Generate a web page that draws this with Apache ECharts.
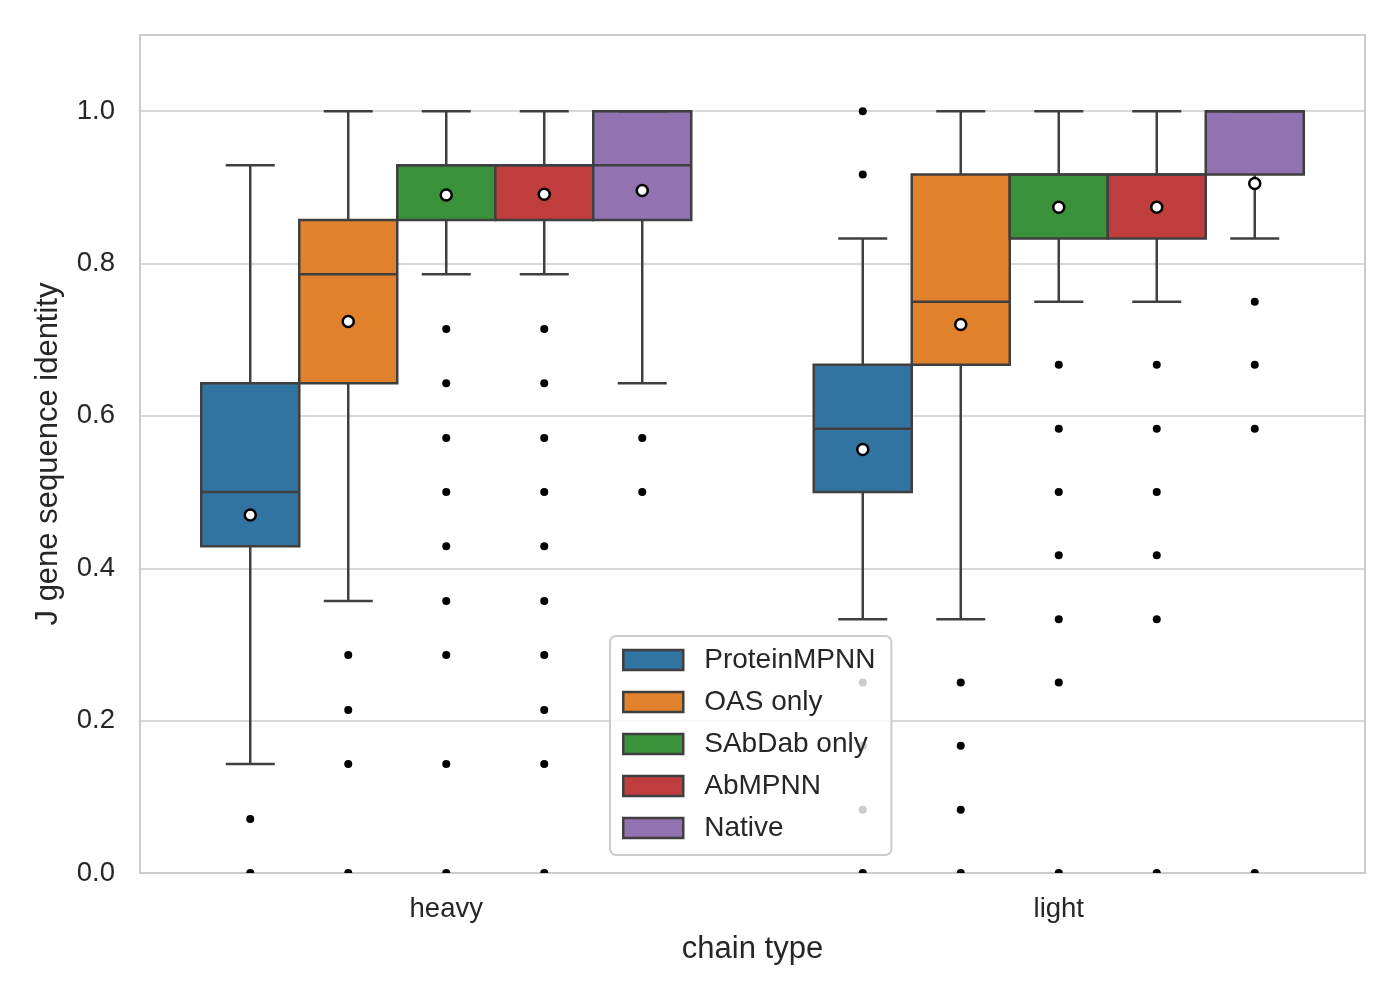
<!DOCTYPE html>
<html>
<head>
<meta charset="utf-8">
<script src="https://cdn.jsdelivr.net/npm/echarts@6/dist/echarts.min.js"></script>
<style>html,body{margin:0;padding:0;background:#fff;}#chart{width:1400px;height:1000px;}</style>
</head>
<body>
<div id="chart"></div>
<script>
// ---- data ----
const categories = ['heavy', 'light'];
const hues = ['ProteinMPNN', 'OAS only', 'SAbDab only', 'AbMPNN', 'Native'];
const palette = ['#3274a1', '#e1812c', '#3a923a', '#c03d3e', '#9372b2'];
// [lower whisker, Q1, median, Q3, upper whisker] per hue
const heavyStats = [
  [0.143, 0.429, 0.5, 0.643, 0.929],
  [0.357, 0.643, 0.786, 0.857, 1.0],
  [0.786, 0.857, 0.929, 0.929, 1.0],
  [0.786, 0.857, 0.929, 0.929, 1.0],
  [0.643, 0.857, 0.929, 1.0, 1.0]
];
const lightStats = [
  [0.333, 0.5, 0.583, 0.667, 0.833],
  [0.333, 0.667, 0.75, 0.917, 1.0],
  [0.75, 0.833, 0.917, 0.917, 1.0],
  [0.75, 0.833, 0.917, 0.917, 1.0],
  [0.833, 0.917, 1.0, 1.0, 1.0]
];
const heavyMeans = [0.470, 0.724, 0.890, 0.891, 0.896];
const lightMeans = [0.556, 0.720, 0.874, 0.874, 0.905];
const heavyFliers = [
  [0.071, 0],
  [0.286, 0.214, 0.143, 0],
  [0.714, 0.643, 0.571, 0.5, 0.429, 0.357, 0.286, 0.143, 0],
  [0.714, 0.643, 0.571, 0.5, 0.429, 0.357, 0.286, 0.214, 0.143, 0],
  [0.571, 0.5]
];
const lightFliers = [
  [1.0, 0.917, 0.25, 0.167, 0.083, 0],
  [0.25, 0.167, 0.083, 0],
  [0.667, 0.583, 0.5, 0.417, 0.333, 0.25, 0],
  [0.667, 0.583, 0.5, 0.417, 0.333, 0],
  [0.75, 0.667, 0.583, 0]
];
const yTicks = [0, 0.2, 0.4, 0.6, 0.8, 1.0];

// ---- layout helpers ----
const GROUP_W = 0.8;
const BOX_W = GROUP_W / hues.length;
const EDGE = '#3f3f3f';
const LW = 2.5;
const FONT = "'Liberation Sans', Arial, sans-serif";
const TXT = '#262626';
function hueX(cat, h) { return cat + (h - (hues.length - 1) / 2) * BOX_W; }

function renderBox(params, api) {
  const x = api.value(0);
  const lo = api.coord([x, api.value(1)]);
  const q1 = api.coord([x, api.value(2)]);
  const md = api.coord([x, api.value(3)]);
  const q3 = api.coord([x, api.value(4)]);
  const hi = api.coord([x, api.value(5)]);
  const bw = api.size([BOX_W, 0])[0];
  const cx = lo[0];
  const cap = bw / 4;
  const ls = { stroke: EDGE, lineWidth: LW, fill: null };
  const color = api.visual('color');
  return {
    type: 'group',
    children: [
      { type: 'line', shape: { x1: cx, y1: q1[1], x2: cx, y2: lo[1] }, style: ls },
      { type: 'line', shape: { x1: cx, y1: q3[1], x2: cx, y2: hi[1] }, style: ls },
      { type: 'line', shape: { x1: cx - cap, y1: lo[1], x2: cx + cap, y2: lo[1] }, style: ls },
      { type: 'rect', shape: { x: cx - bw / 2, y: q3[1], width: bw, height: q1[1] - q3[1] },
        style: { fill: color, stroke: EDGE, lineWidth: LW } },
      { type: 'line', shape: { x1: cx - bw / 2, y1: md[1], x2: cx + bw / 2, y2: md[1] }, style: ls },
      { type: 'line', shape: { x1: cx - cap, y1: hi[1], x2: cx + cap, y2: hi[1] }, style: ls }
    ]
  };
}

function renderDot(size, fill, stroke, lw) {
  return function (params, api) {
    const p = api.coord([api.value(0), api.value(1)]);
    return { type: 'circle', shape: { cx: p[0], cy: p[1], r: size / 2 },
      style: { fill: fill, stroke: stroke, lineWidth: lw } };
  };
}

const series = [];
hues.forEach(function (name, h) {
  series.push({
    type: 'custom',
    name: name,
    xAxisIndex: 1,
    renderItem: renderBox,
    itemStyle: { color: palette[h] },
    encode: { x: 0, y: [1, 2, 3, 4, 5] },
    z: 2,
    silent: true,
    data: [
      [hueX(0, h)].concat(heavyStats[h]),
      [hueX(1, h)].concat(lightStats[h])
    ]
  });
});
const flierData = [];
const meanData = [];
hues.forEach(function (name, h) {
  heavyFliers[h].forEach(function (v) { flierData.push([hueX(0, h), v]); });
  lightFliers[h].forEach(function (v) { flierData.push([hueX(1, h), v]); });
  meanData.push([hueX(0, h), heavyMeans[h]]);
  meanData.push([hueX(1, h), lightMeans[h]]);
});
series.push({
  type: 'custom', xAxisIndex: 1, renderItem: renderDot(8, '#000000', null, 0),
  encode: { x: 0, y: 1 }, z: 3, clip: true, silent: true,
  data: flierData
});
series.push({
  type: 'custom', xAxisIndex: 1, renderItem: renderDot(11, '#ffffff', '#000000', 2.5),
  encode: { x: 0, y: 1 }, z: 5, clip: true, silent: true,
  data: meanData
});

const chart = echarts.init(document.getElementById('chart'), null, { renderer: 'canvas' });
chart.setOption({
  animation: false,
  backgroundColor: '#ffffff',
  textStyle: { fontFamily: FONT, color: TXT },
  grid: { left: 140, right: 35, top: 35, bottom: 127, show: true, borderColor: '#cccccc', borderWidth: 2, backgroundColor: 'transparent' },
  xAxis: [
    {
      type: 'category', data: categories, boundaryGap: true,
      axisLine: { show: false }, axisTick: { show: false }, splitLine: { show: false },
      axisLabel: { fontSize: 27.5, color: TXT, margin: 22, fontFamily: FONT },
      name: 'chain type', nameLocation: 'middle', nameGap: 61,
      nameTextStyle: { fontSize: 31, color: TXT, fontFamily: FONT }
    },
    { type: 'value', min: -0.5, max: 1.5, show: false, splitLine: { show: false } }
  ],
  yAxis: {
    type: 'value', min: 0, max: 1.1, interval: 0.2,
    axisLine: { show: false }, axisTick: { show: false },
    axisLabel: {
      fontSize: 27.5, color: TXT, margin: 25, fontFamily: FONT,
      formatter: function (v) {
        for (let i = 0; i < yTicks.length; i++) if (Math.abs(v - yTicks[i]) < 1e-6) return yTicks[i].toFixed(1);
        return '';
      }
    },
    splitLine: { show: true, lineStyle: { color: '#cccccc', width: 1.5 } },
    name: 'J gene sequence identity', nameLocation: 'middle', nameGap: 76,
    nameTextStyle: { fontSize: 31, color: TXT, fontFamily: FONT }
  },
  legend: {
    orient: 'vertical', left: 610, top: 636, selectedMode: false,
    itemWidth: 60, itemHeight: 20, itemGap: 12,
    padding: [9, 16, 12, 12],
    backgroundColor: 'rgba(255,255,255,0.8)', borderColor: '#cccccc', borderWidth: 2, borderRadius: 6,
    textStyle: { fontSize: 28, color: TXT, fontFamily: FONT, lineHeight: 30, padding: [0, 0, 0, 16] },
    data: hues.map(function (n, h) {
      return { name: n, icon: 'rect', itemStyle: { color: palette[h], borderColor: EDGE, borderWidth: 2.5 } };
    }),
    z: 4
  },
  series: series
});
</script>
</body>
</html>
